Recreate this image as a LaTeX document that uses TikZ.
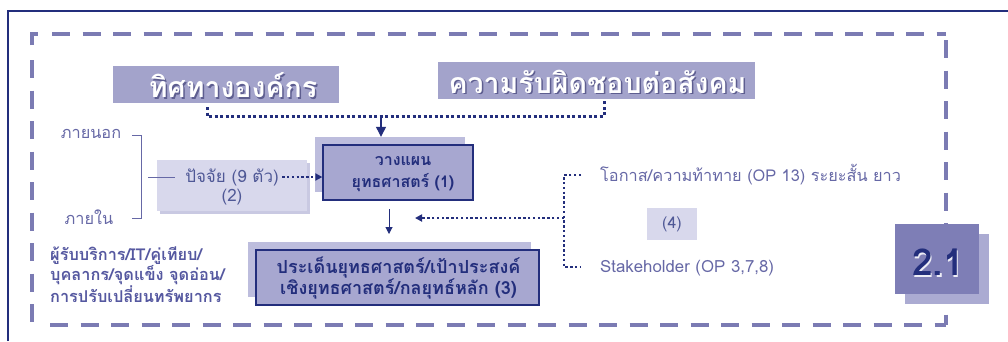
\documentclass[tikz,border=0pt]{standalone}
\usepackage{fontspec}
\newfontfamily\thf[Script=Thai]{Loma}
\usetikzlibrary{arrows.meta,calc}
\definecolor{navy}{HTML}{232E7C}
\definecolor{boxmid}{HTML}{A7A7D0}
\definecolor{boxshade}{HTML}{BDBDDD}
\definecolor{boxlight}{HTML}{D8D8EC}
\definecolor{boxlightsh}{HTML}{C9C9E2}
\definecolor{txtsoft}{HTML}{6668A6}
\definecolor{txtleft}{HTML}{5558A0}
\definecolor{dashc}{HTML}{7B7BB3}
\definecolor{hdrbox}{HTML}{A3A3CB}
\definecolor{hdrshadow}{HTML}{5E5E90}
\definecolor{bigbox}{HTML}{7E7EB6}
\definecolor{bigboxsh}{HTML}{ABABD2}
\tikzset{
  hdrbox/.style={fill=hdrbox, draw=none, inner sep=0pt},
  hdrtext/.style={text=white, font=\thf\bfseries\fontsize{28.5}{30}\selectfont},
  hdrshade/.style={text=hdrshadow, font=\thf\bfseries\fontsize{28.5}{30}\selectfont},
  mainbox/.style={fill=boxmid, draw=navy, line width=1.3pt, inner sep=0pt},
  shadebox/.style={fill=boxshade, draw=none, inner sep=0pt},
  lightbox/.style={fill=boxlight, draw=none, inner sep=0pt},
  lightsh/.style={fill=boxlightsh, draw=none, inner sep=0pt},
  boldtxt/.style={text=navy, font=\thf\bfseries\fontsize{16}{22}\selectfont, align=center},
  softtxt/.style={text=txtsoft, font=\thf\fontsize{16.3}{21}\selectfont},
  midtxt/.style={text=navy!80!white, font=\thf\fontsize{17}{20}\selectfont},
  dots/.style={draw=navy, line width=3pt, dash pattern=on 3pt off 2.5pt},
  smalldots/.style={draw=navy, line width=2.4pt, dash pattern=on 2.4pt off 2.4pt},
  dashframe/.style={draw=dashc, line width=3.8pt, dash pattern=on 18pt off 12.5pt},
  thin/.style={draw=txtsoft, line width=0.8pt},
  tip/.style={-{Triangle[length=10pt,width=10pt]}},
  smalltip/.style={-{Triangle[length=7pt,width=7pt]}},
}
\begin{document}
\begin{tikzpicture}[x=1pt,y=-1pt]
\useasboundingbox (0,0) rectangle (1008,341);
\fill[white] (0,0) rectangle (1008,341);
% outer frame
\draw[navy, line width=1.5pt] (8,341) -- (8,11) -- (1008,11);
% dashed frame
\draw[draw=dashc, line width=3.8pt] (32,45) -- (32,34) -- (38,34);
\draw[dashframe] (52,34) -- (946,34);
\draw[dashframe] (32,60) -- (32,325);
\draw[dashframe] (50,325) -- (946,325);
\draw[dashframe] (946,40) -- (946,325);

% headers
\node[hdrbox, minimum width=226pt, minimum height=37pt] (hdr1) at (226,84.5) {};
\node[hdrshade] at (234.5,87) {ทิศทางองค์กร};
\node[hdrtext] (hdr1t) at (233,85.5) {ทิศทางองค์กร};
\node[hdrbox, minimum width=317pt, minimum height=37pt] (hdr2) at (596.5,80.5) {};
\node[hdrshade] at (599,83) {ความรับผิดชอบต่อสังคม};
\node[hdrtext] (hdr2t) at (597.5,81.5) {ความรับผิดชอบต่อสังคม};

% box 1
\node[shadebox, minimum width=150pt, minimum height=55pt] (box1sh) at (390,164.5) {};
\node[mainbox, minimum width=150pt, minimum height=55pt] (box1) at (398,172.5) {};
\node[boldtxt] (box1t) at (403,174) {วางแผน\\ยุทธศาสตร์ (1)};

% dotted feed from headers
\coordinate (d1) at (207,107);
\coordinate (d2) at (207,116);
\coordinate (d3) at (604,116);
\coordinate (d4) at (604,101);
\coordinate (dm) at (381,116);
\draw[dots] (d1) -- (d2) -- (d3) -- (d4);
\draw[navy, line width=1.2pt, tip] (dm) -- (dm |- box1sh.north);

% box 2
\node[lightsh, minimum width=150pt, minimum height=51pt] (box2sh) at (235,188.5) {};
\node[lightbox, minimum width=150pt, minimum height=51pt] (box2) at (232,185.5) {};
\node[midtxt] (t2a) at (232,177) {ปัจจัย (9 ตัว)};
\node[midtxt] (t2b) at (232,197) {(2)};
\draw[smalldots, smalltip] (t2a.east) -- (t2a.east -| box1.west);
\coordinate (l1) at (148,177);
\coordinate (l2) at (175,177);
\draw[thin] (l1) -- (l2);

% left bracket
\coordinate (b1) at (132,135);
\coordinate (b2) at (141,135);
\coordinate (b3) at (141,218);
\coordinate (b4) at (132,218);
\draw[thin] (b1) -- (b2) -- (b3) -- (b4);
\node[softtxt] (ext) at (91,134) {ภายนอก};
\node[softtxt] (int) at (89,217) {ภายใน};
\node[text=txtleft, font=\thf\bfseries\fontsize{16.3}{20}\selectfont, anchor=north west, align=left, inner sep=0pt] (left) at (50,246)
  {ผู้รับบริการ/IT/คู่เทียบ/\\บุคลากร/จุดแข็ง จุดอ่อน/\\การปรับเปลี่ยนทรัพยากร};

% box 3
\node[shadebox, minimum width=283pt, minimum height=55pt] (box3sh) at (389.5,269.5) {};
\node[mainbox, minimum width=283pt, minimum height=55pt] (box3) at (397.5,277.5) {};
\node[boldtxt, font=\thf\bfseries\fontsize{18}{21}\selectfont] (box3t) at (398.5,278.5) {ประเด็นยุทธศาสตร์/เป้าประสงค์\\เชิงยุทธศาสตร์/กลยุทธ์หลัก (3)};

% down arrow box1 -> box3
\coordinate (a1) at (389,209);
\coordinate (a2) at (389,234);
\draw[navy, line width=1pt, smalltip] (a1) -- (a2);

% right bracket
\coordinate (r1) at (581,175);
\coordinate (r2) at (564,175);
\coordinate (r3) at (564,267);
\coordinate (r4) at (581,267);
\coordinate (rm) at (564,218);
\coordinate (rt) at (415,218);
\draw[smalldots] (r1) -- (r2) -- (r3) -- (r4);
\draw[smalldots, smalltip] (rm) -- (rt);
\node[softtxt, anchor=west, inner sep=0pt] (opp) at (600,175) {โอกาส/ความท้าทาย (OP 13) ระยะสั้น ยาว};
\node[softtxt, font=\thf\fontsize{16.8}{21}\selectfont, anchor=west, inner sep=0pt] (stk) at (600,268) {Stakeholder (OP 3,7,8)};
\node[lightbox, minimum width=50pt, minimum height=32pt, text=navy!80!white, font=\thf\fontsize{16}{18}\selectfont] (box4) at (672,224) {(4)};

% 2.1 box
\node[fill=bigboxsh, inner sep=0pt, minimum width=84pt, minimum height=70pt] (bigsh) at (947,269) {};
\node[fill=bigbox, inner sep=0pt, minimum width=84pt, minimum height=70pt] (big) at (937,259) {};
\node[text=white!80!boxmid, font=\thf\bfseries\fontsize{37}{40}\selectfont] at (939.5,264) {2.1};
\node[text=navy, font=\thf\bfseries\fontsize{37}{40}\selectfont] (bigt) at (938,262.5) {2.1};
\end{tikzpicture}
\end{document}
